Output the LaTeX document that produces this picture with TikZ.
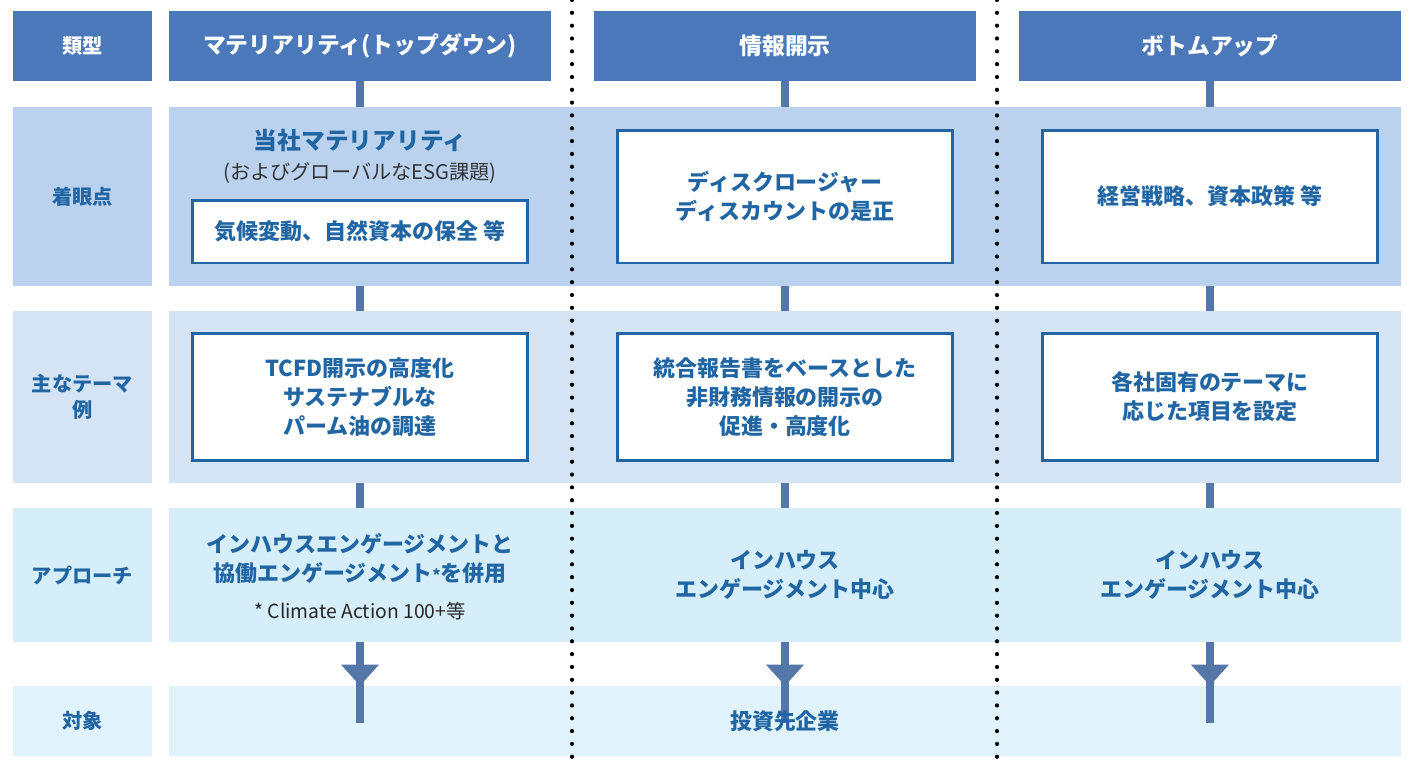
\documentclass[tikz,border=0pt]{standalone}
\usepackage{fontspec}
\setmainfont{Noto Sans CJK JP}
\usetikzlibrary{positioning}
\definecolor{headblue}{HTML}{4A78B9}
\definecolor{rowA}{HTML}{BAD2EE}
\definecolor{rowB}{HTML}{D4E4F5}
\definecolor{rowC}{HTML}{D5EEFA}
\definecolor{rowD}{HTML}{E0F2FC}
\definecolor{txtblue}{HTML}{2166A3}
\definecolor{connblue}{HTML}{5577A8}
\begin{document}
\begin{tikzpicture}[x=0.02cm, y=-0.02cm,
head/.style={rectangle, fill=headblue, text=white, font=\bfseries\fontsize{13}{16}\selectfont, minimum width=7.64cm, minimum height=1.4cm, inner sep=0pt},
lab/.style={rectangle, text=txtblue, font=\bfseries\fontsize{11.5}{15}\selectfont, minimum width=2.78cm, inner sep=0pt, align=center},
band/.style={rectangle, minimum width=24.64cm, inner sep=0pt},
box/.style={rectangle, draw=txtblue, line width=1.7pt, fill=white, text=txtblue, font=\bfseries\fontsize{12.5}{16.5}\selectfont, minimum width=6.7cm, inner sep=0pt, align=center},
btxt/.style={text=txtblue, font=\bfseries\fontsize{12.5}{16.5}\selectfont, align=center},
conn/.style={draw=connblue, line width=4.5pt},
tip/.style={fill=connblue},
sep/.style={line width=2.4pt, dash pattern=on 0pt off 7.3pt, line cap=round},
]
\useasboundingbox (0,0) rectangle (1419,768);
% rows
\node[band, fill=rowA, minimum height=3.58cm] (bandA) at (785,196.5) {};
\node[band, fill=rowB, minimum height=3.44cm] (bandB) at (785,397) {};
\node[band, fill=rowC, minimum height=2.68cm] (bandC) at (785,575) {};
\node[band, fill=rowD, minimum height=1.4cm] (bandD) at (785,721) {};
% left labels
\node[lab, fill=headblue, text=white, minimum height=1.4cm] (l0) at (82.5,46) {類型};
\node[lab, fill=rowA, minimum height=3.58cm] (l1) at (82.5,196.5) {着眼点};
\node[lab, fill=rowB, minimum height=3.44cm] (l2) at (82.5,397) {主なテーマ\\例};
\node[lab, fill=rowC, minimum height=2.68cm] (l3) at (82.5,575) {アプローチ};
\node[lab, fill=rowD, minimum height=1.4cm] (l4) at (82.5,721) {対象};
% headers
\node[head] (h1) at (360,46) {マテリアリティ(トップダウン)};
\node[head] (h2) at (785,46) {情報開示};
\node[head] (h3) at (1210,46) {ボトムアップ};
% connectors
\foreach \h in {h1,h2,h3}{
  \draw[conn] (\h.south) -- (\h.south |- bandA.north);
  \draw[conn] (\h.south |- bandA.south) -- (\h.south |- bandB.north);
  \draw[conn] (\h.south |- bandB.south) -- (\h.south |- bandC.north);
  \coordinate (t\h) at (\h.south |- bandD.north);
  \draw[conn] (\h.south |- bandC.south) -- ([yshift=-21]t\h);
  \fill[tip] (t\h) -- ++(-19,-21) -- ++(38,0) -- cycle;
}
% row A
\node[btxt, font=\bfseries\fontsize{13.5}{16}\selectfont] (m1) at (360,140) {当社マテリアリティ};
\node[text=black!80, font=\fontsize{11.5}{15}\selectfont] (m2) at (360,173) {(およびグローバルなESG課題)};
\node[box, minimum height=1.26cm] (a1) at (360,231.5) {気候変動、自然資本の保全 等};
\node[box, minimum height=2.66cm] (a2) at (785,196.5) {ディスクロージャー\\ディスカウントの是正};
\node[box, minimum height=2.66cm] (a3) at (1210,196.5) {経営戦略、資本政策 等};
% row B
\node[box, minimum height=2.54cm] (b1) at (360,397) {TCFD開示の高度化\\サステナブルな\\パーム油の調達};
\node[box, minimum height=2.54cm] (b2) at (785,397) {統合報告書をベースとした\\非財務情報の開示の\\促進・高度化};
\node[box, minimum height=2.54cm] (b3) at (1210,397) {各社固有のテーマに\\応じた項目を設定};
% row C
\node[btxt] (c1) at (360,559) {インハウスエンゲージメントと\\協働エンゲージメント{\fontsize{9}{9}\selectfont*}を併用};
\node[text=black!85, font=\fontsize{11}{14}\selectfont] (c1n) at (360,611) {* Climate Action 100+等};
\node[btxt] (c2) at (785,575) {インハウス\\エンゲージメント中心};
\node[btxt] (c3) at (1210,575) {インハウス\\エンゲージメント中心};
% row D
\node[btxt] (d2) at (785,721) {投資先企業};
% separators
\coordinate (s1t) at (572,0);
\coordinate (s1b) at (572,768);
\coordinate (s2t) at (997,0);
\coordinate (s2b) at (997,768);
\draw[sep] (s1t) -- (s1b);
\draw[sep] (s2t) -- (s2b);
\end{tikzpicture}
\end{document}
